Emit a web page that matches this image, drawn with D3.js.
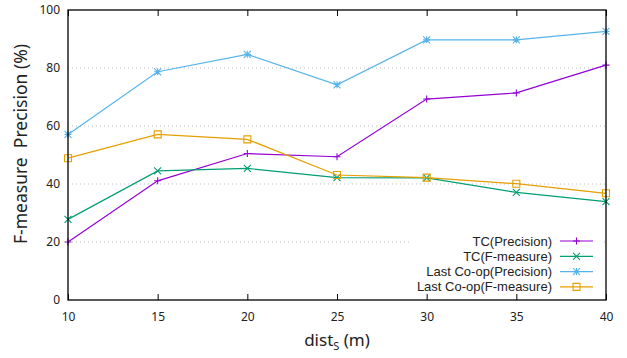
<!DOCTYPE html>
<html><head><meta charset="utf-8">
<script src="https://cdn.jsdelivr.net/npm/d3@7"></script>
<style>body{margin:0;background:#fff}svg{display:block;font-family:"Noto Sans","DejaVu Sans",sans-serif}</style>
</head><body><svg id="c" width="627" height="358"></svg>
<script>
const xValues = [10, 15, 20, 25, 30, 35, 40];
const tcPrecision = [20.0, 41.1, 50.5, 49.4, 69.3, 71.4, 81.0];
const tcFmeasure = [27.8, 44.5, 45.4, 42.2, 42.1, 37.1, 33.9];
const lastPrecision = [57.1, 78.7, 84.7, 74.2, 89.7, 89.7, 92.6];
const lastFmeasure = [48.9, 57.1, 55.4, 43.1, 42.2, 40.1, 36.8];
const yTicks = [0, 20, 40, 60, 80, 100];
const gridTicks = [20, 40, 60, 80];
const seriesNames = ["TC(Precision)", "TC(F-measure)", "Last Co-op(Precision)", "Last Co-op(F-measure)"];
const seriesColors = ["#9400d3", "#009e73", "#56b4e9", "#e69f00"];
const seriesMarkers = ["plus", "cross", "star", "square"];
const seriesData = [tcPrecision, tcFmeasure, lastPrecision, lastFmeasure];

const svg = d3.select("#c");
const L = 68, R = 606, T = 10, B = 300;
const x = d3.scaleLinear().domain([10, 40]).range([L, R]);
const y = d3.scaleLinear().domain([0, 100]).range([B, T]);

// grid
svg.append("g").selectAll("line").data(gridTicks).join("line")
  .attr("x1", L).attr("x2", R).attr("y1", d => y(d)).attr("y2", d => y(d))
  .attr("stroke", "#bbb").attr("stroke-width", 1).attr("stroke-dasharray", "1,3");

function marker(g, type, cx, cy, color) {
  const s = 3.5;
  const p = g.append("path").attr("stroke", color).attr("stroke-width", 1.1).attr("fill", "none");
  if (type === "plus") p.attr("d", `M${cx-s},${cy}H${cx+s}M${cx},${cy-s}V${cy+s}`);
  else if (type === "cross") p.attr("d", `M${cx-s},${cy-s}L${cx+s},${cy+s}M${cx-s},${cy+s}L${cx+s},${cy-s}`);
  else if (type === "star") p.attr("d", `M${cx-s},${cy}H${cx+s}M${cx},${cy-s}V${cy+s}M${cx-s},${cy-s}L${cx+s},${cy+s}M${cx-s},${cy+s}L${cx+s},${cy-s}`);
  else p.attr("d", `M${cx-s},${cy-s}h${2*s}v${2*s}h${-2*s}Z`);
}

const line = d3.line().x((d, i) => x(xValues[i])).y(d => y(d));
seriesData.forEach((data, k) => {
  const g = svg.append("g");
  g.append("path").datum(data).attr("d", line).attr("fill", "none")
    .attr("stroke", seriesColors[k]).attr("stroke-width", 1.2);
  data.forEach((v, i) => marker(g, seriesMarkers[k], x(xValues[i]), y(v), seriesColors[k]));
});

// legend (opaque)
const lg = svg.append("g");
lg.append("rect").attr("x", 410).attr("y", 232).attr("width", 192).attr("height", 62).attr("fill", "#fff");
seriesNames.forEach((n, k) => {
  const ly = 241 + k * 15.3;
  lg.append("text").attr("x", 552).attr("y", ly).attr("dy", "0.35em").attr("text-anchor", "end")
    .attr("font-size", 13).attr("fill", "#222").style("font-family", '"Liberation Sans",Arial,sans-serif').text(n);
  lg.append("line").attr("x1", 560).attr("x2", 593).attr("y1", ly).attr("y2", ly)
    .attr("stroke", seriesColors[k]).attr("stroke-width", 1.2);
  marker(lg, seriesMarkers[k], 576.5, ly, seriesColors[k]);
});

// axes
const xAxis = d3.axisBottom(x).tickValues(xValues).tickSize(-6).tickPadding(12);
const gx = svg.append("g").attr("transform", `translate(0,${B})`).call(xAxis);
gx.select(".domain").remove();
gx.selectAll("line").attr("stroke", "#000");
gx.selectAll("text").attr("font-size", 12).attr("fill", "#222").style("font-family", '"Noto Sans","DejaVu Sans",sans-serif');
const gxt = svg.append("g").attr("transform", `translate(0,${T})`).call(d3.axisTop(x).tickValues(xValues).tickSize(-6).tickFormat(""));
gxt.select(".domain").remove();
gxt.selectAll("line").attr("stroke", "#000");

const yAxis = d3.axisLeft(y).tickValues(yTicks).tickSize(0).tickPadding(8);
const gy = svg.append("g").attr("transform", `translate(${L},0)`).call(yAxis);
gy.select(".domain").remove();
gy.selectAll("text").attr("font-size", 12).attr("fill", "#222").style("font-family", '"Noto Sans","DejaVu Sans",sans-serif');

svg.append("rect").attr("x", L).attr("y", T).attr("width", R - L).attr("height", B - T)
  .attr("fill", "none").attr("stroke", "#000").attr("stroke-width", 1.3);

// labels
const xl = svg.append("text").attr("x", 337).attr("y", 346).attr("text-anchor", "middle")
  .attr("font-size", 17).attr("fill", "#222");
xl.append("tspan").text("dist");
xl.append("tspan").attr("font-size", 11).attr("dy", 4).text("S");
xl.append("tspan").attr("dy", -4).text(" (m)");

svg.append("text").attr("transform", "translate(27,144) rotate(-90)").attr("text-anchor", "middle")
  .attr("font-size", 17.5).attr("fill", "#222").attr("xml:space", "preserve").style("white-space", "pre")
  .text("F-measure  Precision (%)");
</script></body></html>
